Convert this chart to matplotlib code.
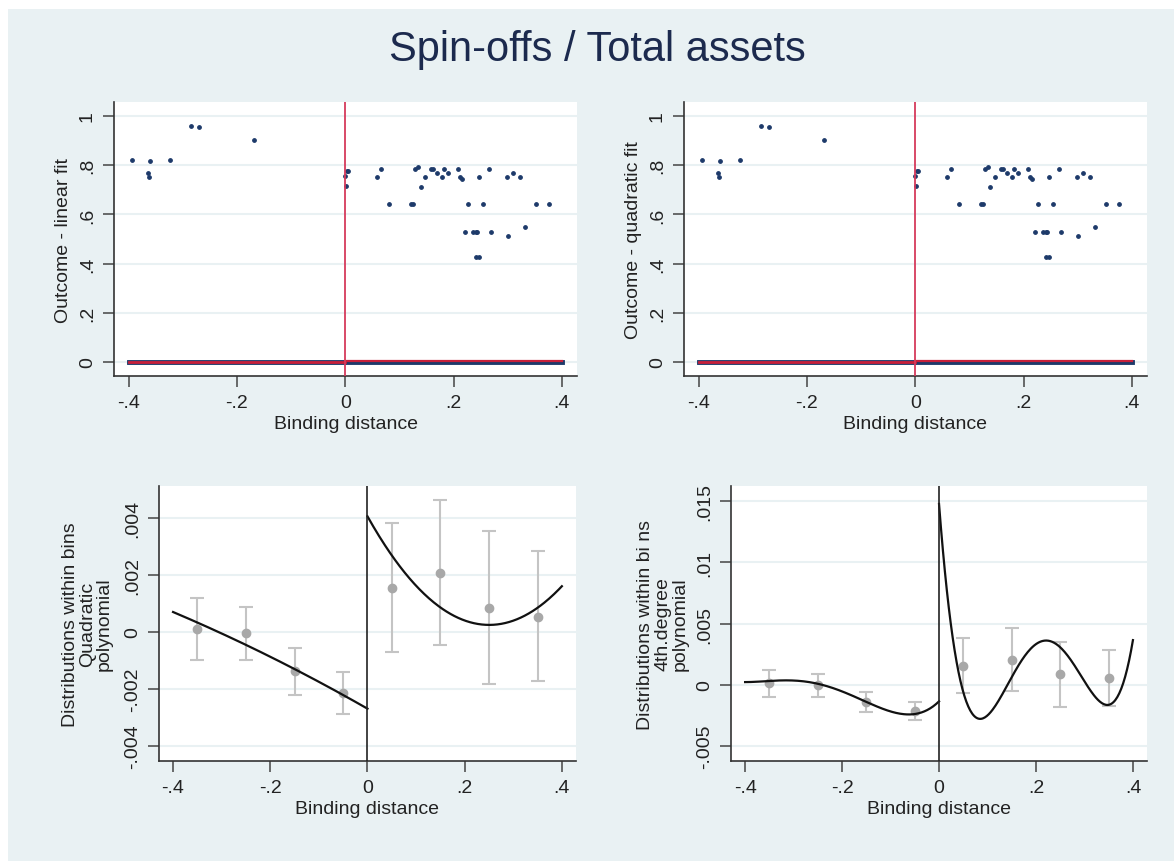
import numpy as np
import matplotlib
matplotlib.use("Agg")
import matplotlib.pyplot as plt
from matplotlib.patches import Rectangle

plt.rcParams['font.family'] = ['Liberation Sans', 'DejaVu Sans']

# --- top panels: observations (outcome vs binding distance) ---
obs_x = [-0.393, -0.360, -0.364, -0.362, -0.323, -0.285, -0.270, -0.169,
         0.000, 0.001, 0.004, 0.006, 0.058, 0.066, 0.081, 0.122, 0.125,
         0.128, 0.135, 0.139, 0.148, 0.158, 0.162, 0.170, 0.179, 0.183,
         0.190, 0.209, 0.212, 0.215, 0.222, 0.227, 0.236, 0.241, 0.244,
         0.241, 0.247, 0.247, 0.255, 0.266, 0.269, 0.298, 0.300, 0.309,
         0.323, 0.332, 0.353, 0.376]
obs_y = [0.820, 0.816, 0.768, 0.751, 0.821, 0.959, 0.957, 0.904,
         0.756, 0.715, 0.776, 0.778, 0.752, 0.786, 0.642, 0.642, 0.642,
         0.786, 0.793, 0.710, 0.752, 0.786, 0.786, 0.767, 0.752, 0.786,
         0.767, 0.786, 0.752, 0.745, 0.528, 0.642, 0.528, 0.528, 0.528,
         0.425, 0.425, 0.752, 0.642, 0.786, 0.528, 0.752, 0.513, 0.767,
         0.752, 0.547, 0.642, 0.642]
# zero outcomes spread over the whole window
zero_x = [-0.4, 0.4]
zero_y = [0.0, 0.0]
# fitted lines left / right of the cutoff
fit_left_x = [-0.4, 0.0]
fit_left_y = [0.002, 0.002]
fit_right_x = [0.0, 0.4]
fit_right_y = [0.003, 0.003]

# --- bottom panels: binned means with confidence intervals ---
bin_x = [-0.35, -0.25, -0.15, -0.05, 0.05, 0.15, 0.25, 0.35]
bin_mean = [0.00012, -0.00005, -0.00138, -0.00213, 0.00154, 0.00206, 0.00084, 0.00054]
ci_lo = [-0.00097, -0.00097, -0.0022, -0.00287, -0.00071, -0.00047, -0.00182, -0.00173]
ci_hi = [0.0012, 0.00088, -0.00058, -0.00139, 0.00382, 0.00463, 0.00353, 0.00283]

# points
quad_left_x = [-0.4, -0.3, -0.2, -0.1, 0.0]
quad_left_y = [0.00071, -0.0001, -0.0008, -0.0018, -0.00268]
quad_right_x = [0.0, 0.05, 0.1, 0.15, 0.2, 0.25, 0.3, 0.35, 0.4]
quad_right_y = [0.0040, 0.0027, 0.0017, 0.0009, 0.00038, 0.00022, 0.00036, 0.00078, 0.00168]

# points
quart_left_x = [-0.4, -0.3, -0.25, -0.2, -0.15, -0.1, -0.065, 0.0]
quart_left_y = [0.00022, 0.00035, 0.00008, -0.00054, -0.0014, -0.00216, -0.00243, -0.00135]
quart_right_x = [0.002, 0.021, 0.049, 0.0896, 0.151, 0.2195, 0.281, 0.3426, 0.4]
quart_right_y = [0.0142, 0.0054, -0.0006, -0.00236, 0.00076, 0.00348, 0.0013, -0.00136, 0.00356]

x_ticks = [-0.4, -0.2, 0, 0.2, 0.4]
x_ticklabels = ['-.4', '-.2', '0', '.2', '.4']

BG = '#e9f1f3'
NAVY = '#1d3a6a'
RED = '#c8203a'


def style_axes(ax, xlim, ylim, yticks, yticklabels):
    ax.set_facecolor('white')
    for s in ['top', 'right']:
        ax.spines[s].set_visible(False)
    for s in ['left', 'bottom']:
        ax.spines[s].set_color('#333333')
        ax.spines[s].set_linewidth(1.2)
    ax.set_xlim(xlim)
    ax.set_ylim(ylim)
    ax.set_xticks(x_ticks)
    ax.set_xticklabels(x_ticklabels)
    ax.set_yticks(yticks)
    ax.set_yticklabels(yticklabels, rotation=90, va='center')
    ax.tick_params(axis='both', length=8, width=1.1, color='#444444',
                   labelsize=14, labelcolor='#222222', pad=5)
    ax.grid(axis='y', color=BG, linewidth=1.5)
    ax.set_axisbelow(True)
    ax.set_xlabel('Binding distance', fontsize=14, color='#222222', labelpad=3)


def paint_top(ax, ylab):
    style_axes(ax, (-0.427, 0.428), (-0.057, 1.057),
               [0, 0.2, 0.4, 0.6, 0.8, 1], ['0', '.2', '.4', '.6', '.8', '1'])
    ax.scatter(obs_x, obs_y, s=6, color=NAVY, zorder=3)
    ax.plot(zero_x, zero_y, color=NAVY, linewidth=3.5, zorder=3)
    ax.plot(fit_left_x, fit_left_y, color=RED, linewidth=2, zorder=4)
    ax.plot(fit_right_x, fit_right_y, color=RED, linewidth=1.6, zorder=4)
    ax.axvline(0, color='#d63a5c', linewidth=1.3, zorder=5)
    ax.set_ylabel(ylab, fontsize=14, color='#222222')
    ax.yaxis.set_label_coords(-0.091, 0.5)


def paint_bottom(ax, ylab, deg, left_x, left_y, right_x, right_y, ylim, yticks, yticklabels, lab_x):
    style_axes(ax, (-0.429, 0.429), ylim, yticks, yticklabels)
    bm = np.array(bin_mean)
    yerr = [bm - np.array(ci_lo), np.array(ci_hi) - bm]
    ax.errorbar(bin_x, bin_mean, yerr=yerr, fmt='o', color='#a8a8a8', ecolor='#c4c4c4',
                markersize=6, elinewidth=1.5, capsize=5, capthick=1.5, zorder=3)
    # polynomial fit on each side of the cutoff
    cl = np.polyfit(left_x, left_y, deg)
    xs = np.linspace(-0.4, 0, 200)
    ax.plot(xs, np.polyval(cl, xs), color='#111111', linewidth=1.6, zorder=4)
    cr = np.polyfit(right_x, right_y, deg)
    xs = np.linspace(0, 0.4, 200)
    ax.plot(xs, np.polyval(cr, xs), color='#111111', linewidth=1.6, zorder=4)
    ax.axvline(0, color='#222222', linewidth=1.2, zorder=5)
    ax.set_ylabel(ylab, fontsize=14, color='#222222', linespacing=1.0,
                  multialignment='center')
    ax.yaxis.set_label_coords(lab_x, 0.5)


fig = plt.figure(figsize=(11.74, 8.62), dpi=100)
fig.patch.set_facecolor('white')
fig.add_artist(Rectangle((8 / 1174, 0), 1 - 8 / 1174, 1 - 10 / 862,
                         transform=fig.transFigure, facecolor=BG, edgecolor='none', zorder=-10))

fig.text(0.509, 0.942, 'Spin-offs / Total assets', fontsize=30, color='#1c2a4e',
         ha='center', va='center')

ax1 = fig.add_axes([0.0971, 0.5626, 0.3944, 0.3179])
paint_top(ax1, 'Outcome - linear fit')
ax2 = fig.add_axes([0.5826, 0.5626, 0.3944, 0.3179])
paint_top(ax2, 'Outcome - quadratic fit')

ax3 = fig.add_axes([0.1354, 0.1160, 0.3552, 0.3190])
paint_bottom(ax3, 'Distributions within bins\nQuadratic\npolynomial', 2,
             quad_left_x, quad_left_y, quad_right_x, quad_right_y,
             (-0.00453, 0.00512), [-0.004, -0.002, 0, 0.002, 0.004],
             ['-.004', '-.002', '0', '.002', '.004'], -0.11)
ax4 = fig.add_axes([0.6227, 0.1160, 0.3543, 0.3190])
paint_bottom(ax4, 'Distributions within bi ns\n4th.degree\npolynomial', 4,
             quart_left_x, quart_left_y, quart_right_x, quart_right_y,
             (-0.00622, 0.01622), [-0.005, 0, 0.005, 0.01, 0.015],
             ['-.005', '0', '.005', '.01', '.015'], -0.103)

fig.savefig('out.png', dpi=100, facecolor=fig.get_facecolor())
